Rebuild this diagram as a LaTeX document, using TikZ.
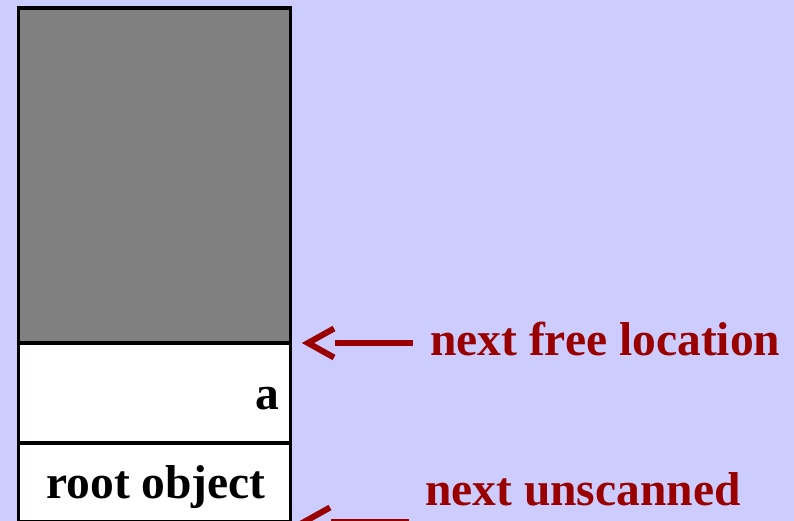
\documentclass[tikz,border=0pt]{standalone}
\usepackage{fontspec}
\setmainfont{Liberation Serif}
\usetikzlibrary{calc,positioning}
\definecolor{slidebg}{HTML}{CCCCFF}
\definecolor{heapgray}{HTML}{808080}
\definecolor{ptrred}{HTML}{990000}

\begin{document}
\begin{tikzpicture}[x=1pt,y=-1pt,
  cell/.style={draw,line width=3.5pt,fill=white,minimum width=272pt,outer sep=0pt,inner sep=0pt,anchor=north west},
  lbl/.style={inner sep=0pt,font=\fontsize{47.5}{57}\selectfont\bfseries},
  ptr/.style={ptrred,line width=6pt}]
  \fill[slidebg] (0,0) rectangle (794,521);
  \useasboundingbox (0,0) rectangle (794,521);
  % heap column
  \node[cell,fill=heapgray,minimum height=335pt] (heap) at (18.5,8) {};
  \node[cell,minimum height=100pt,below=0pt of heap] (acell) {};
  \node[cell,minimum height=79pt,below=0pt of acell] (rootcell) {};
  \node[lbl,anchor=base east] (aname) at ($(acell.south east)+(-11.5,-34)$) {a};
  \node[lbl,anchor=base] (rootname) at ($(rootcell.north)+(1.5,55)$) {root object};
  % pointers: shaft, then open head with its point at the tip
  \node[lbl,ptrred,anchor=base west] (freename) at (430,355) {next free location};
  \node[lbl,ptrred,anchor=base west] (scanname) at (425,505) {next unscanned};
  \coordinate (freetip) at ($(heap.south east)+(11.5,0)$);
  \coordinate (freetail) at ($(freename.base west)+(-17,-12)$);
  \coordinate (scantip) at ($(rootcell.south east)+(7.5,0)$);
  \coordinate (scantail) at ($(scanname.base west)+(-16,17)$);
  \draw[ptr] (freetail) -- ($(freetip)+(33,0)$);
  \draw[ptr] ($(freetip)+(32,-14.5)$) -- ($(freetip)+(6,0)$) -- ($(freetip)+(32,14.5)$);
  \draw[ptr] (scantail) -- ($(scantip)+(33,0)$);
  \draw[ptr] ($(scantip)+(32,-14.5)$) -- ($(scantip)+(6,0)$) -- ($(scantip)+(32,14.5)$);
\end{tikzpicture}
\end{document}
